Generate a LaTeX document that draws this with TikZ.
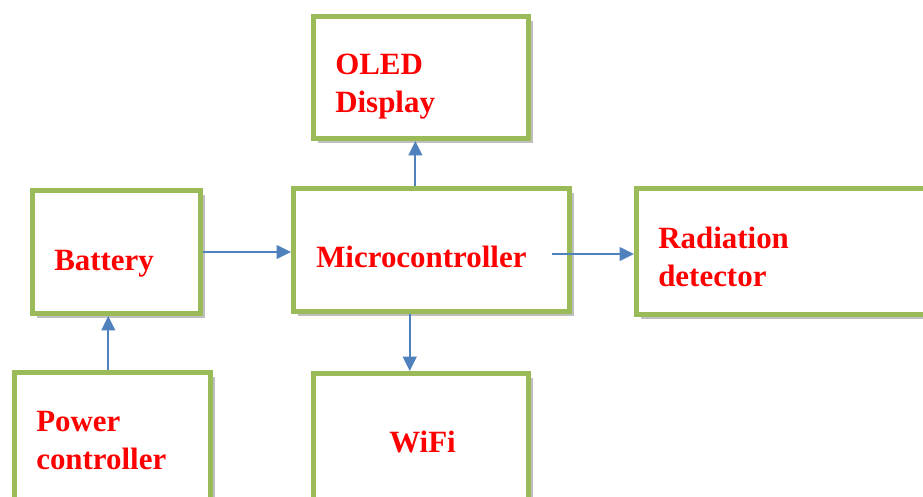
\documentclass[tikz,border=0pt]{standalone}
\usepackage{fontspec}
\setmainfont{Liberation Serif}
\usetikzlibrary{arrows.meta, shadows}
\definecolor{boxgreen}{HTML}{9BBB59}
\definecolor{arrowblue}{HTML}{4F81BD}
\tikzset{
    block/.style = {draw=boxgreen, line width=3.5pt, fill=white,
        drop shadow={shadow xshift=3pt, shadow yshift=-3pt, fill=black!50, opacity=0.5}},
    blocktext/.style = {text=red, font=\fontsize{22}{27}\selectfont\bfseries, inner sep=0pt, align=left},
    link/.style = {arrowblue, line width=1.4pt, -{Triangle[length=0.36cm, width=0.34cm]}}
}

\begin{document}
\begin{tikzpicture}[x=0.025cm, y=-0.025cm]
    \clip (0,0) rectangle (923,496);
    \fill[white] (0,0) rectangle (923,496);
    \node[block, minimum width=5.375cm, minimum height=3.05cm]  (oled) at (421,77.5)   {};
    \node[block, minimum width=4.2cm,   minimum height=3.075cm] (bat)  at (116.5,252)  {};
    \node[block, minimum width=6.9cm,   minimum height=3.075cm] (mcu)  at (431.5,250)  {};
    \node[block, minimum width=7.5cm,   minimum height=3.15cm]  (rad)  at (786.5,251.5) {};
    \node[block, minimum width=4.9cm,   minimum height=3.2cm]   (pwr)  at (112.5,436.5) {};
    \node[block, minimum width=5.375cm, minimum height=3.2cm]   (wifi) at (421,437.5)  {};

    \node[blocktext, anchor=north west] (oledtxt) at (335,54)  {OLED\\Display};
    \node[blocktext, anchor=base west]  (battxt)  at (54,270)  {Battery};
    \node[blocktext, anchor=base west]  (mcutxt)  at (316,267) {Microcontroller};
    \node[blocktext, anchor=north west] (radtxt)  at (658,227) {Radiation\\detector};
    \node[blocktext, anchor=north west] (pwrtxt)  at (36,411)  {Power\\controller};
    \node[blocktext, anchor=base west]  (wifitxt) at (389,452) {WiFi};

    \draw[link] (bat.east) -- (bat.east -| mcu.west);
    \draw[link] ([xshift=-4pt]oled.south |- mcu.north) -- ([xshift=-4pt]oled.south);
    \draw[link] ([xshift=-8pt]wifi.north |- mcu.south) -- ([xshift=-8pt]wifi.north);
    \draw[link] ([xshift=-3pt]pwr.north) -- ([xshift=-3pt]pwr.north |- bat.south);
    \draw[link] ([shift={(-0.49cm,-0.1cm)}]mcu.east) -- ([yshift=-0.1cm]mcu.east -| rad.west);
\end{tikzpicture}
\end{document}
